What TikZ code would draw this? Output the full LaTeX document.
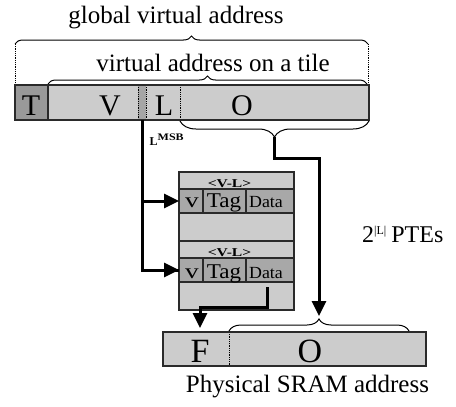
\documentclass[tikz,border=0pt]{standalone}
\usepackage{fontspec}
\setmainfont{Liberation Serif}
\usetikzlibrary{arrows.meta,decorations.pathreplacing,fit,calc}

\definecolor{barfill}{HTML}{CCCCCC}
\definecolor{tagfill}{HTML}{999999}
\definecolor{stripfill}{HTML}{A6A6A6}
\definecolor{rowfill}{HTML}{A8A8A8}
\definecolor{edge}{HTML}{2A2A2A}

\newcommand\fsz[1]{\fontsize{#1}{#1}\selectfont}
\newcommand\hstretch[2]{\scalebox{#1}[1]{#2}}

\begin{document}
\begin{tikzpicture}[x=1pt,y=-1pt,
  area/.style={inner sep=0pt, outer sep=0pt, fill=barfill},
  frame/.style={draw=edge, line width=1.4pt},
  cell/.style={area, fill=rowfill, draw=edge, line width=1.1pt},
  divider/.style={draw=black, line width=0.8pt, densely dotted},
  bracket/.style={draw=black, line width=1pt,
    decorate, decoration={brace, amplitude=#1}},
  conn/.style={draw=black, line width=3pt},
  arr/.style={conn, -{Triangle[length=15pt,width=14pt]}},
  biglabel/.style={anchor=base, inner sep=0pt, font=\fsz{25}},
  letter/.style={anchor=base, inner sep=0pt, font=\fsz{#1}},
  celltext/.style={anchor=base, inner sep=0pt, font=\fsz{#1}},
  head/.style={anchor=base, inner sep=0pt, font=\bfseries\fsz{12}},
]
\useasboundingbox (0,0) rectangle (456,407);

% ---------- global virtual address ----------
\node[biglabel] (gva) at (176,23) {global virtual address};
\draw[bracket=8] (15,44) -- (368,44);
\draw[divider] (15,44) -- (15,85);
\draw[divider] (368,44) -- (368,85);

\node[biglabel] (vat) at (213,71) {virtual address on a tile};
\draw[bracket=8] (48,84) -- (367,84);

% address fields
\node[area, fit={(15,85) (369,120)}] (bar) {};
\node[area, fill=tagfill, fit={(15,85) (48,120)}] (T) {};
\node[area, fill=stripfill, fit={(138,85) (146,120)}] (Ls) {};
\draw[divider] (Ls.north west) -- (Ls.south west);
\draw[divider] (Ls.north east) -- (Ls.south east);
\draw[divider] (180,85) -- (180,120);
\draw[frame] (bar.north west) rectangle (bar.south east);
\draw[frame] (T.north west) rectangle (T.south east);

\node[letter=30] (lT) at (31,115) {T};
\node[letter=30] (lV) at (110,115) {V};
\node[letter=30] (lL) at (164,115) {L};
\node[letter=30] (lO) at (242,115) {O};

% offset bracket below the O field
\draw[bracket=16] (369,121) -- (180,121);
\coordinate (otip) at (274.5,137);

% ---------- page table ----------
\node[area, frame, fit={(179,172) (294,310)}] (tbl) {};
\draw[draw=edge, line width=1.1pt] (tbl.west |- 0,241) -- (tbl.east |- 0,241);

\node[head] (h1) at (229.5,187.5) {\hstretch{1.3}{<V-L>}};
\node[head] (h2) at (229.5,256.5) {\hstretch{1.3}{<V-L>}};

\node[cell, fit={(179,189) (203,213)}] (r1v) {};
\node[cell, fit={(203,189) (246,213)}] (r1t) {};
\node[cell, fit={(246,189) (294,213)}] (r1d) {};
\node[cell, fit={(179,258) (203,282)}] (r2v) {};
\node[cell, fit={(203,258) (246,282)}] (r2t) {};
\node[cell, fit={(246,258) (294,282)}] (r2d) {};

\node[celltext=21] (t1v) at (192,207) {\hstretch{1.3}{v}};
\node[celltext=21] (t1t) at (224,207) {\hstretch{1.1}{Tag}};
\node[celltext=17] (t1d) at (266,207) {\hstretch{1.05}{Data}};
\node[celltext=21] (t2v) at (192,278) {\hstretch{1.3}{v}};
\node[celltext=21] (t2t) at (224,278) {\hstretch{1.1}{Tag}};
\node[celltext=17] (t2d) at (266,278) {\hstretch{1.05}{Data}};

% L^MSB selects the entry
\node[anchor=base west, inner sep=0pt, font=\bfseries\fsz{12}] (lmsb) at (149.5,145)
  {L\raisebox{5pt}{\fsz{10}\hstretch{1.2}{MSB}}};
\draw[conn] (Ls.south) |- (r2v.west);
\draw[arr] (Ls.south |- r1v.west) -- (r1v.west);
\draw[arr] ($(r2v.west)+(-20,0)$) -- (r2v.west);

% ---------- physical address ----------
\node[area, fit={(163,332) (426,366)}] (pbar) {};
\draw[divider] (229,332) -- (229,366);
\draw[frame] (pbar.north west) rectangle (pbar.south east);
\node[letter=34] (lF) at (200,362) {F};
\node[letter=34] (lO2) at (310,362) {O};
\draw[bracket=12] (229,331) -- (409,331);
\coordinate (ptip) at (319,316);
\coordinate (ftip) at (200,328);

\node[biglabel] (psa) at (307.5,392) {Physical SRAM address};

\node[anchor=base west, inner sep=0pt, font=\fsz{24}] (ptes) at (362,242)
  {2\raisebox{8pt}{\fsz{12}|L|}\hspace{5pt}PTEs};

% offset and frame connectors
\draw[arr] (otip) -- ++(0,21) -| (ptip);
\coordinate (dstart) at (267,287);
\draw[arr] (dstart) -- ++(0,20) -| (ftip);
\end{tikzpicture}
\end{document}
